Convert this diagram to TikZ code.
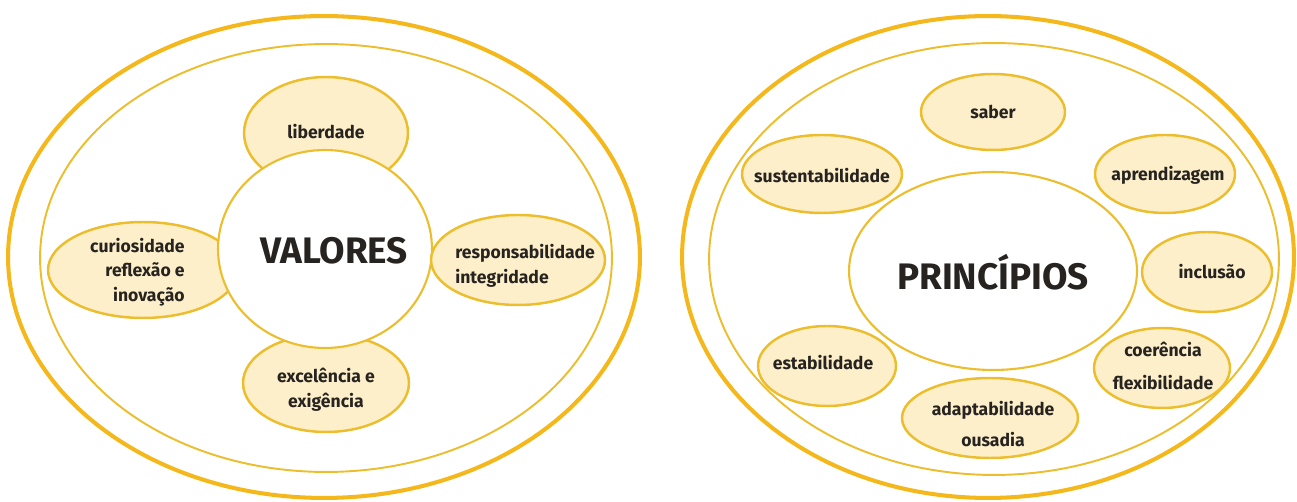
\documentclass[tikz,border=0pt]{standalone}
\usepackage{fontspec}
\setmainfont{Fira Sans}
\usepackage{tikz}
\usetikzlibrary{shapes.geometric,positioning}
\definecolor{gold}{HTML}{F4B81C}
\definecolor{goldline}{HTML}{ECBD2C}
\definecolor{cream}{HTML}{FDEFC9}
\definecolor{ink}{HTML}{262320}

\begin{document}
\begin{tikzpicture}[x=0.02cm, y=-0.02cm]
      \tikzstyle{ring} = [ellipse, draw=gold, line width=2.3pt, inner sep=0pt]
      \tikzstyle{iring} = [ellipse, draw=goldline, line width=1.1pt, inner sep=0pt]
      \tikzstyle{pnode} = [ellipse, draw=goldline, fill=cream, line width=1.4pt, inner sep=0pt]
      \tikzstyle{cnode} = [ellipse, draw=goldline, fill=white, line width=1.2pt, inner sep=0pt]
      \tikzstyle{tnode} = [text=ink, font=\fontsize{10}{14}\selectfont\bfseries, inner sep=0pt, align=center]
      \tikzstyle{bnode} = [text=ink, font=\fontsize{21}{24}\selectfont\bfseries, inner sep=0pt]

      \useasboundingbox (0,0) rectangle (1297,502);

      % left: valores
      \begin{scope}
        \node[ring, minimum width=12.64cm, minimum height=9.64cm] (vout) at (324,257) {};
        \node[iring, minimum width=11.44cm, minimum height=8.56cm] (vin) at (326,258) {};
        \node[pnode, minimum width=3.28cm, minimum height=2.24cm] (v1) at (326,133) {};
        \node[pnode, minimum width=3.8cm, minimum height=1.92cm] (v2) at (143,270) {};
        \node[pnode, minimum width=3.32cm, minimum height=1.96cm] (v4) at (326,383) {};
        \node[cnode, minimum width=4.28cm, minimum height=3.96cm] (v0) at (325,249) {};
        \node[pnode, minimum width=3.48cm, minimum height=1.8cm] (v3) at (518,260) {};

        \node[bnode] (tv0) at (334,251) {VALORES};
        \node[tnode] (tv1) at (326,132) {liberdade};
        \node[tnode, anchor=east, align=right] (tv2) at (185,272) {curiosidade\\reflexão e\\inovação};
        \node[tnode, anchor=west, align=left] (tv3) at (455,266) {responsabilidade\\integridade};
        \node[tnode] (tv4) at (326,390) {excelência e\\exigência};
      \end{scope}

      % right: principios
      \begin{scope}
        \node[ring, minimum width=12.24cm, minimum height=9.64cm] (pout) at (988,257) {};
        \node[iring, minimum width=11.4cm, minimum height=8.64cm] (pin) at (994,259) {};
        \node[cnode, minimum width=5.76cm, minimum height=3.96cm] (p0) at (993,271) {};
        \node[pnode, minimum width=2.88cm, minimum height=1.52cm] (p1) at (993,112) {};
        \node[pnode, minimum width=2.8cm, minimum height=1.56cm] (p2) at (1165,174) {};
        \node[pnode, minimum width=2.6cm, minimum height=1.6cm] (p3) at (1207,272) {};
        \node[pnode, minimum width=2.72cm, minimum height=1.6cm] (p4) at (1162,368) {};
        \node[pnode, minimum width=3.52cm, minimum height=1.6cm] (p5) at (990,418) {};
        \node[pnode, minimum width=2.76cm, minimum height=1.6cm] (p6) at (827,366) {};
        \node[pnode, minimum width=3.2cm, minimum height=1.56cm] (p7) at (822,174) {};

        \node[bnode] (tp0) at (993,272) {PRINCÍPIOS};
        \node[tnode] (tp1) at (993,112) {saber};
        \node[tnode] (tp2) at (1168,175) {aprendizagem};
        \node[tnode] (tp3) at (1212,272) {inclusão};
        \node[tnode, font=\fontsize{10}{19}\selectfont\bfseries] (tp4) at (1163,366) {coerência\\flexibilidade};
        \node[tnode, font=\fontsize{10}{18}\selectfont\bfseries] (tp5) at (993,424) {adaptabilidade\\ousadia};
        \node[tnode] (tp6) at (823,363) {estabilidade};
        \node[tnode] (tp7) at (822,176) {sustentabilidade};
      \end{scope}
    \end{tikzpicture}
\end{document}
